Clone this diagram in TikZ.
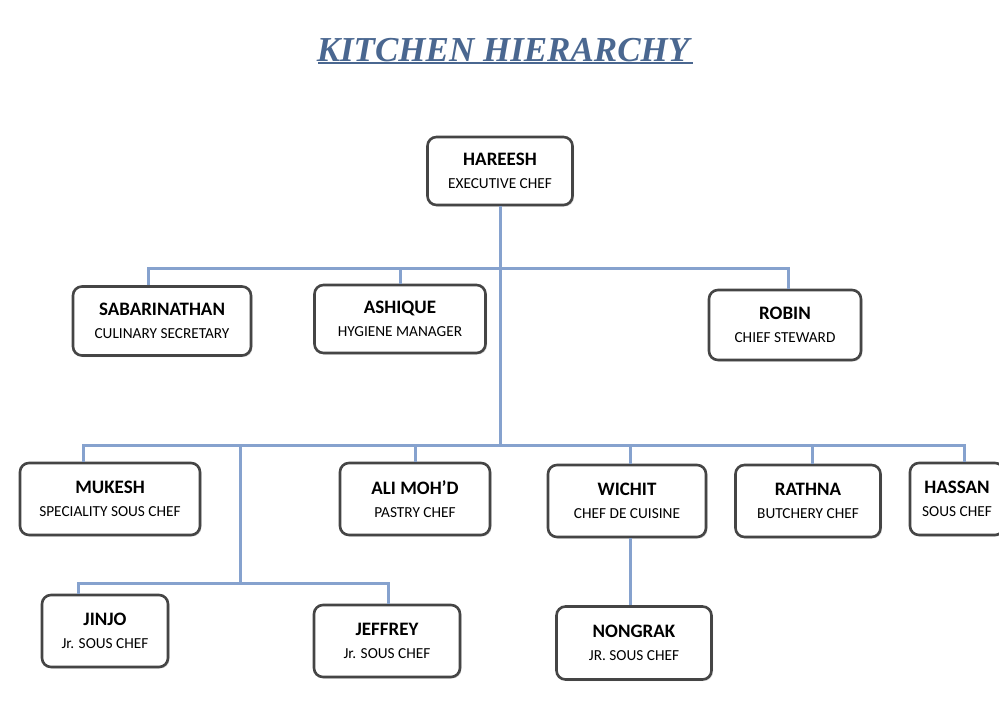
\documentclass[tikz,border=0pt]{standalone}
\usepackage{fontspec}
\setmainfont{Carlito}
\newfontfamily\titlefont{Liberation Serif}
\usetikzlibrary{shadows}
\definecolor{titleblue}{HTML}{4A6790}
\definecolor{connblue}{HTML}{86A2CE}
\definecolor{boxgray}{HTML}{454545}
\tikzset{
  box/.style={draw=boxgray, line width=2.6pt, rounded corners=9pt, fill=white, align=center,
    inner sep=2pt, font=\fontsize{15}{23}\selectfont,
    drop shadow={shadow xshift=1.5pt, shadow yshift=-1.5pt, opacity=0.25}},
  conn/.style={draw=connblue, line width=3pt},
}
\newcommand{\entry}[2]{{\fontsize{19}{23}\selectfont\bfseries #1}\\{\fontsize{15.3}{23}\selectfont #2}}
\begin{document}
\begin{tikzpicture}[x=1pt,y=-1pt]
\useasboundingbox (0,0) rectangle (999,713);
\fill[white] (0,0) rectangle (999,713);
% title
\node (title) at (503,50) {\titlefont\bfseries\itshape\fontsize{35}{40}\selectfont\color{titleblue}KITCHEN HIERARCHY};
\draw[titleblue, line width=2pt] (title.south west) ++(5,-2) coordinate (ul1) -- (title.south east |- ul1) coordinate (ul2);
% bus coordinates
\coordinate (bus1) at (0,268);
\coordinate (bus2) at (0,445);
\coordinate (bus3) at (0,583);
\coordinate (jj) at (240,445);
% boxes
\node[box, minimum width=145pt, minimum height=68pt] (hareesh) at (500,171) {\entry{HAREESH}{EXECUTIVE CHEF}};
\node[box, minimum width=178pt, minimum height=69pt] (sab) at (162,321) {\entry{SABARINATHAN}{CULINARY SECRETARY}};
\node[box, minimum width=171pt, minimum height=68pt] (ashique) at (400,319) {\entry{ASHIQUE}{HYGIENE MANAGER}};
\node[box, minimum width=152pt, minimum height=70pt] (robin) at (785,325) {\entry{ROBIN}{CHIEF STEWARD}};
\node[box, minimum width=180pt, minimum height=72pt] (mukesh) at (110,499) {\entry{MUKESH}{SPECIALITY SOUS CHEF}};
\node[box, minimum width=150pt, minimum height=72pt] (ali) at (415,499) {\entry{ALI MOH'D}{PASTRY CHEF}};
\node[box, minimum width=158pt, minimum height=72pt] (wichit) at (627,501) {\entry{WICHIT}{CHEF DE CUISINE}};
\node[box, minimum width=145pt, minimum height=72pt] (rathna) at (808,501) {\entry{RATHNA}{BUTCHERY CHEF}};
\node[box, minimum width=94pt, minimum height=72pt] (hassan) at (957,499) {\entry{HASSAN}{SOUS CHEF}};
\node[box, minimum width=126pt, minimum height=72pt] (jinjo) at (105,631) {\entry{JINJO}{Jr. SOUS CHEF}};
\node[box, minimum width=146pt, minimum height=72pt] (jeffrey) at (387,641) {\entry{JEFFREY}{Jr. SOUS CHEF}};
\node[box, minimum width=155pt, minimum height=73pt] (nongrak) at (634,643) {\entry{NONGRAK}{JR. SOUS CHEF}};
% connectors
\draw[conn] (hareesh.south) -- (hareesh.south |- bus2);
\draw[conn] ([xshift=-14pt]sab.north) -- ([xshift=-14pt]sab.north |- bus1) -| ([xshift=3pt]robin.north);
\draw[conn] (ashique.north) -- (ashique.north |- bus1);
\draw[conn] ([xshift=-27pt]mukesh.north) -- ([xshift=-27pt]mukesh.north |- bus2) -| ([xshift=7pt]hassan.north);
\draw[conn] (ali.north) -- (ali.north |- bus2);
\draw[conn] ([xshift=3pt]wichit.north) -- ([xshift=3pt]wichit.north |- bus2);
\draw[conn] ([xshift=4pt]rathna.north) -- ([xshift=4pt]rathna.north |- bus2);
\draw[conn] (jj) -- (jj |- bus3);
\draw[conn] ([xshift=-27pt]jinjo.north) -- ([xshift=-27pt]jinjo.north |- bus3) -| ([xshift=1pt]jeffrey.north);
\draw[conn] ([xshift=3pt]wichit.south) -- ([xshift=3pt]wichit.south |- nongrak.north);
\end{tikzpicture}
\end{document}
